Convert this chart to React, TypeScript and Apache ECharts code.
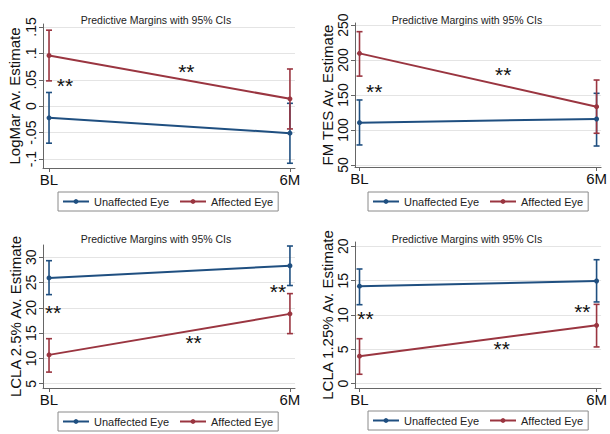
import React, { useEffect, useRef } from "react";
import * as echarts from "echarts";

// ---------- data ----------
const timepoints = ["BL", "6M"];
const timeValues = [0, 1];
const seriesNames = ["Unaffected Eye", "Affected Eye"];
const panelTitle = "Predictive Margins with 95% CIs";
const axisTitles = [
  "LogMar Av. Estimate",
  "FM TES Av. Estimate",
  "LCLA 2.5% Av. Estimate",
  "LCLA 1.25% Av. Estimate",
];

// Panel 1: LogMar
const logmarUnaffected = [-0.022, -0.051];
const logmarUnaffectedLo = [-0.07, -0.108];
const logmarUnaffectedHi = [0.026, 0.0055];
const logmarAffected = [0.096, 0.014];
const logmarAffectedLo = [0.048, -0.043];
const logmarAffectedHi = [0.144, 0.0705];
const logmarTicks = [-0.1, -0.05, 0, 0.05, 0.1, 0.15];
const logmarTickLabels = ["-.1", "-.05", "0", ".05", ".1", ".15"];
const logmarStars = [
  [0.066, 0.044],
  [0.57, 0.072],
];

// Panel 2: FM TES
const fmUnaffected = [110.5, 115.7];
const fmUnaffectedLo = [78.6, 77.1];
const fmUnaffectedHi = [142.9, 152.4];
const fmAffected = [209.5, 133.3];
const fmAffectedLo = [177, 95.3];
const fmAffectedHi = [240.5, 171.4];
const fmTicks = [50, 100, 150, 200, 250];
const fmTickLabels = ["50", "100", "150", "200", "250"];
const fmStars = [
  [0.062, 159],
  [0.606, 183],
];

// Panel 3: LCLA 2.5%
const lcla25Unaffected = [25.9, 28.3];
const lcla25UnaffectedLo = [22.6, 24.4];
const lcla25UnaffectedHi = [29.3, 32.2];
const lcla25Affected = [10.7, 18.8];
const lcla25AffectedLo = [7.3, 14.9];
const lcla25AffectedHi = [13.9, 22.8];
const lcla25Ticks = [5, 10, 15, 20, 25, 30];
const lcla25TickLabels = ["5", "10", "15", "20", "25", "30"];
const lcla25Stars = [
  [0.017, 19.7],
  [0.6, 13.8],
  [0.95, 23.9],
];

// Panel 4: LCLA 1.25%
const lcla125Unaffected = [14.2, 14.95];
const lcla125UnaffectedLo = [11.5, 11.9];
const lcla125UnaffectedHi = [16.7, 18.05];
const lcla125Affected = [4.0, 8.5];
const lcla125AffectedLo = [1.37, 5.35];
const lcla125AffectedHi = [6.55, 11.55];
const lcla125Ticks = [0, 5, 10, 15, 20];
const lcla125TickLabels = ["0", "5", "10", "15", "20"];
const lcla125Stars = [
  [0.025, 10],
  [0.6, 5.6],
  [0.94, 10.9],
];

// ---------- styling / layout ----------
const BLUE = "#1f4f80";
const RED = "#9a3540";
const FONT = "Liberation Sans, Arial, sans-serif";

const panels = [
  {
    u: logmarUnaffected, uLo: logmarUnaffectedLo, uHi: logmarUnaffectedHi,
    a: logmarAffected, aLo: logmarAffectedLo, aHi: logmarAffectedHi,
    ticks: logmarTicks, tickLabels: logmarTickLabels, stars: logmarStars,
    grid: { left: 43, top: 24, width: 252, height: 144 },
    yMin: -0.117, yMax: 0.1557, xMin: -0.025, xMax: 1.021,
    nameGap: 21, titleX: 151, titleY: 9, legendX: 58, legendY: 192,
  },
  {
    u: fmUnaffected, uLo: fmUnaffectedLo, uHi: fmUnaffectedHi,
    a: fmAffected, aLo: fmAffectedLo, aHi: fmAffectedHi,
    ticks: fmTicks, tickLabels: fmTickLabels, stars: fmStars,
    grid: { left: 355, top: 23, width: 250, height: 144 },
    yMin: 47.1, yMax: 252.9, xMin: -0.019, xMax: 1.019,
    nameGap: 17, titleX: 462, titleY: 9, legendX: 368, legendY: 192,
  },
  {
    u: lcla25Unaffected, uLo: lcla25UnaffectedLo, uHi: lcla25UnaffectedHi,
    a: lcla25Affected, aLo: lcla25AffectedLo, aHi: lcla25AffectedHi,
    ticks: lcla25Ticks, tickLabels: lcla25TickLabels, stars: lcla25Stars,
    grid: { left: 43, top: 245, width: 252, height: 143 },
    yMin: 4.16, yMax: 32.4, xMin: -0.025, xMax: 1.021,
    nameGap: 18, titleX: 151, titleY: 228, legendX: 58, legendY: 412,
  },
  {
    u: lcla125Unaffected, uLo: lcla125UnaffectedLo, uHi: lcla125UnaffectedHi,
    a: lcla125Affected, aLo: lcla125AffectedLo, aHi: lcla125AffectedHi,
    ticks: lcla125Ticks, tickLabels: lcla125TickLabels, stars: lcla125Stars,
    grid: { left: 355, top: 242, width: 250, height: 146 },
    yMin: -0.63, yMax: 20.63, xMin: -0.019, xMax: 1.019,
    nameGap: 17, titleX: 462, titleY: 228, legendX: 368, legendY: 411,
  },
];

function pairs(vals: number[]) {
  return timeValues.map((t, i) => [t, vals[i]]);
}
function ciTriples(lo: number[], hi: number[]) {
  return timeValues.map((t, i) => [t, lo[i], hi[i]]);
}

function errorBarSeries(idx: number, lo: number[], hi: number[], color: string) {
  return {
    type: "custom",
    xAxisIndex: idx,
    yAxisIndex: idx,
    z: 2,
    silent: true,
    data: ciTriples(lo, hi),
    encode: { x: 0, y: [1, 2] },
    renderItem: (_p: any, api: any) => {
      const x = api.value(0);
      const a = api.coord([x, api.value(1)]);
      const b = api.coord([x, api.value(2)]);
      const w = 3;
      const style = { stroke: color, lineWidth: 1.6 };
      return {
        type: "group",
        children: [
          { type: "line", shape: { x1: a[0], y1: a[1], x2: b[0], y2: b[1] }, style },
          { type: "line", shape: { x1: a[0] - w, y1: a[1], x2: a[0] + w, y2: a[1] }, style },
          { type: "line", shape: { x1: b[0] - w, y1: b[1], x2: b[0] + w, y2: b[1] }, style },
        ],
      };
    },
  };
}

function starSeries(idx: number, stars: number[][]) {
  return {
    type: "custom",
    xAxisIndex: idx,
    yAxisIndex: idx,
    z: 5,
    silent: true,
    data: stars,
    encode: { x: 0, y: 1 },
    renderItem: (_p: any, api: any) => {
      const c = api.coord([api.value(0), api.value(1)]);
      return {
        type: "text",
        x: c[0],
        y: c[1] + 3,
        style: {
          text: "**",
          fontSize: 21,
          fontFamily: FONT,
          fill: "#111",
          align: "center",
          verticalAlign: "middle",
        },
      };
    },
  };
}

function buildOption() {
  const grid: any[] = [];
  const xAxis: any[] = [];
  const yAxis: any[] = [];
  const series: any[] = [];
  const title: any[] = [];
  const legend: any[] = [];

  panels.forEach((p, i) => {
    grid.push({ ...p.grid, containLabel: false });
    title.push({
      text: panelTitle,
      left: p.titleX,
      top: p.titleY,
      textAlign: "center",
      textStyle: { fontSize: 10.5, fontWeight: "normal", color: "#222", fontFamily: FONT },
    });
    legend.push({
      data: seriesNames,
      left: p.legendX,
      top: p.legendY,
      orient: "horizontal",
      itemWidth: 26,
      itemHeight: 6,
      itemGap: 10,
      padding: [4, 5, 4, 4],
      borderColor: "#8a8a8a",
      borderWidth: 1,
      selectedMode: false,
      textStyle: { fontSize: 11, color: "#222", fontFamily: FONT },
    });
    xAxis.push({
      type: "value",
      gridIndex: i,
      min: p.xMin,
      max: p.xMax,
      axisLine: { show: true, onZero: false, lineStyle: { color: "#666", width: 1 } },
      axisTick: { show: true, customValues: timeValues, length: 4, lineStyle: { color: "#666" } },
      axisLabel: {
        customValues: timeValues,
        formatter: (v: number) => timepoints[Math.round(v)],
        fontSize: 15,
        color: "#111",
        margin: 4,
        fontFamily: FONT,
      },
      splitLine: { show: false },
    });
    const ticks = p.ticks;
    const labels = p.tickLabels;
    yAxis.push({
      type: "value",
      gridIndex: i,
      min: p.yMin,
      max: p.yMax,
      name: axisTitles[i],
      nameLocation: "middle",
      nameRotate: 90,
      nameGap: p.nameGap,
      nameTextStyle: { fontSize: 15, color: "#111", fontFamily: FONT },
      axisLine: { show: true, onZero: false, lineStyle: { color: "#666", width: 1 } },
      axisTick: { show: true, customValues: ticks, length: 4, lineStyle: { color: "#666" } },
      axisLabel: {
        customValues: ticks,
        rotate: 90,
        margin: 5,
        fontSize: 14,
        color: "#111",
        fontFamily: FONT,
        formatter: (v: number) => {
          const k = ticks.findIndex((t) => Math.abs(t - v) < 1e-9);
          return k >= 0 ? labels[k] : "";
        },
      },
      splitLine: { show: true, lineStyle: { color: "#e4e4e4", width: 1 } },
    });

    series.push(errorBarSeries(i, p.uLo, p.uHi, BLUE));
    series.push(errorBarSeries(i, p.aLo, p.aHi, RED));
    series.push({
      type: "line",
      name: seriesNames[0],
      xAxisIndex: i,
      yAxisIndex: i,
      z: 3,
      data: pairs(p.u),
      symbol: "circle",
      symbolSize: 5,
      showSymbol: true,
      itemStyle: { color: BLUE },
      lineStyle: { color: BLUE, width: 2 },
    });
    series.push({
      type: "line",
      name: seriesNames[1],
      xAxisIndex: i,
      yAxisIndex: i,
      z: 3,
      data: pairs(p.a),
      symbol: "circle",
      symbolSize: 5,
      showSymbol: true,
      itemStyle: { color: RED },
      lineStyle: { color: RED, width: 2 },
    });
    series.push(starSeries(i, p.stars));
  });

  return {
    animation: false,
    backgroundColor: "#ffffff",
    textStyle: { fontFamily: FONT },
    title,
    legend,
    grid,
    xAxis,
    yAxis,
    series,
  };
}

export default function App() {
  const ref = useRef<HTMLDivElement>(null);
  useEffect(() => {
    document.body.style.margin = "0";
    if (!ref.current) return;
    const chart = echarts.init(ref.current, undefined, { renderer: "svg" });
    chart.setOption(buildOption() as any);
    return () => chart.dispose();
  }, []);
  return <div ref={ref} style={{ width: 610, height: 434 }} />;
}
